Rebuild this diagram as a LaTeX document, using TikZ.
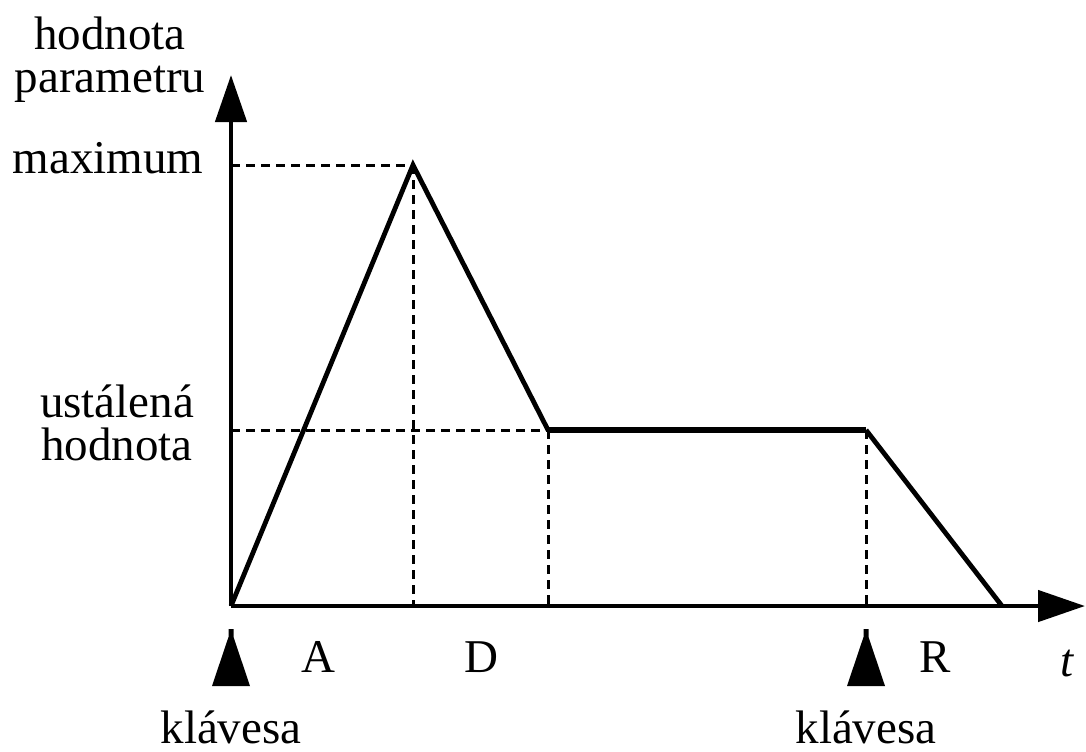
\documentclass[tikz,border=0pt]{standalone}
\usepackage{fontspec}
\setmainfont{Liberation Serif}
\usepackage{tikz}
\usetikzlibrary{arrows.meta,positioning,calc}
\tikzset{
  axisline/.style={-{Triangle[length=23.5pt,width=15.5pt]}, line width=2.3pt, draw=black},
  envline/.style={line width=2.4pt, draw=black, line join=miter},
  guide/.style={line width=1.5pt, draw=black, dash pattern=on 4.5pt off 3pt},
  keymark/.style={fill=black, draw=none},
  lbl/.style={font=\fontsize{23.5}{21.5}\selectfont, inner sep=0pt, align=center, text=black}
}

\begin{document}
\begin{tikzpicture}[x=0.5pt,y=-0.5pt]
    \useasboundingbox (0,0) rectangle (1086,751);

    % envelope points
    \coordinate (O) at (231,606);
    \coordinate (peak) at (413,165);
    \coordinate (susA) at (548,430);
    \coordinate (susB) at (866,430);
    \coordinate (rel) at (1002,606);
    \coordinate (ytop) at (231,75);
    \coordinate (xend) at (1085,606);

    % feet of the guides
    \coordinate (peakx) at (peak |- O);
    \coordinate (peaky) at (peak -| O);
    \coordinate (susAx) at (susA |- O);
    \coordinate (susy) at (susA -| O);
    \coordinate (susBx) at (susB |- O);

    % guides
    \draw[guide] (peaky) -- (peak);
    \draw[guide] (peak) -- (peakx);
    \draw[guide] (susy) -- (susA);
    \draw[guide] (susA) -- (susAx);
    \draw[guide] (susB) -- (susBx);

    % axes
    \draw[axisline] (O) -- (ytop);
    \draw[axisline] (O) -- (xend);

    % ADSR curve
    \draw[envline] (O) -- (peak) -- (susA);
    \draw[envline, line width=3pt] (susA) -- (susB);
    \draw[envline] (susB) -- (rel);

    % key markers
    \foreach \k/\kx in {keyon/231,keyoff/866}{
        \fill[keymark] (\kx-2.5,629) -- (\kx+2.5,629) -- (\kx+2.5,637)
            -- (\kx+19,686) -- (\kx-19,686) -- (\kx-2.5,637) -- cycle;
        \node[lbl, anchor=base] (\k) at (\kx,743) {klávesa};
    }

    % labels (base = last line)
    \node[lbl, anchor=base] (ylab) at (110,92) {hodnota\\parametru};
    \node[lbl, anchor=base] (maxlab) at (108,173) {maximum};
    \node[lbl, anchor=base] (suslab) at (117,460) {ustálená\\hodnota};
    \node[lbl, anchor=base] (alab) at (318,672) {A};
    \node[lbl, anchor=base] (dlab) at (481,672) {D};
    \node[lbl, anchor=base] (rlab) at (935,672) {R};
    \node[lbl, anchor=base] (tlab) at (1067,676) {\itshape t};
\end{tikzpicture}
\end{document}
